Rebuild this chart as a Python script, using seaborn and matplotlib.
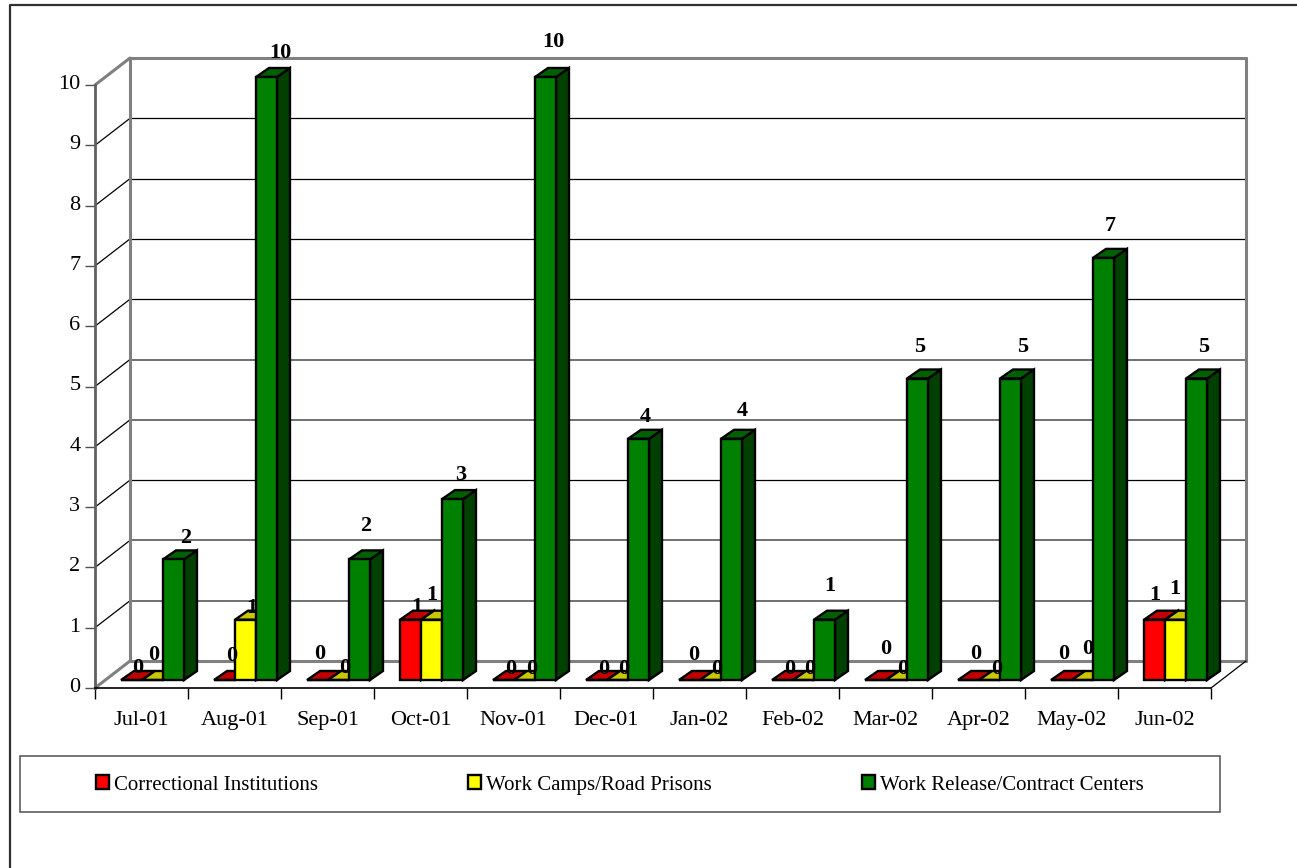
import matplotlib
matplotlib.use("Agg")
import matplotlib.pyplot as plt
import pandas as pd
import seaborn as sns
from matplotlib.lines import Line2D
from matplotlib.patches import Patch, Polygon, Rectangle
from matplotlib.transforms import Affine2D, IdentityTransform

months = ["Jul-01", "Aug-01", "Sep-01", "Oct-01", "Nov-01", "Dec-01",
          "Jan-02", "Feb-02", "Mar-02", "Apr-02", "May-02", "Jun-02"]
correctional = [0, 0, 0, 1, 0, 0, 0, 0, 0, 0, 0, 1]
work_camps = [0, 1, 0, 1, 0, 0, 0, 0, 0, 0, 0, 1]
work_release = [2, 10, 2, 3, 10, 4, 4, 1, 5, 5, 7, 5]
series_names = ["Correctional Institutions", "Work Camps/Road Prisons",
                "Work Release/Contract Centers"]

front_colors = ["#FF0000", "#FFFF00", "#008000"]
top_colors = ["#C00000", "#C8C800", "#006000"]
side_colors = ["#800000", "#808000", "#004000"]

# label nudges in pixels relative to each bar's top centre (the source chart scatters them)
nudge_x = [[6, 7, 2, 6, 7, 7, 4, 7, 10, 7, 2, 0],
           [1, 6, 6, 0, 7, 6, 6, 6, 6, 7, 5, -1],
           [12, 14, 6, 8, 8, 7, 11, 5, 2, 12, 7, 7]]
nudge_y = [[12, 24, 26, 13, 11, 11, 25, 11, 31, 26, 26, 25],
           [25, 12, 12, 25, 11, 11, 11, 11, 11, 11, 31, 31],
           [21, 24, 33, 24, 35, 22, 28, 34, 31, 31, 32, 31]]

W, H = 1297, 868
FONT = "Liberation Serif"
sns.set_theme(style="white")
plt.rcParams["font.family"] = [FONT, "DejaVu Serif"]
plt.rcParams["text.color"] = "black"

fig = plt.figure(figsize=(W / 100, H / 100), dpi=100, facecolor="white")
left, right, top, bottom = 95, 1211, 85, 688
ax = fig.add_axes([left / W, 1 - bottom / H, (right - left) / W, (bottom - top) / H])
ax.patch.set_alpha(0)

df = pd.DataFrame({
    "month": months * 3,
    "series": [s for s in series_names for _ in months],
    "count": correctional + work_camps + work_release,
})
sns.barplot(data=df, x="month", y="count", hue="series", order=months,
            hue_order=series_names, palette=front_colors, saturation=1,
            width=0.677, gap=0, edgecolor="black", linewidth=1.7,
            legend=False, ax=ax)
ax.set_xlim(-0.5, 11.5)
ax.set_ylim(0, 10)
ax.set_autoscale_on(False)
ax.set_xlabel("")
ax.set_ylabel("")

WALL = (35, 27)
BAR_SHIFT = (11, 8)
DEPTH = (13, 9)
GREY = "#808080"


def disp(x, y, dx=0, dy=0):
    px, py = ax.transData.transform((x, y))
    return px + dx, py + dy


def seg(p, q, **kw):
    line = Line2D([p[0], q[0]], [p[1], q[1]], transform=IdentityTransform(),
                  clip_on=False, **kw)
    ax.add_artist(line)


# back wall and side walls
for v in range(0, 11):
    if v in (0, 10):
        col, lw = GREY, 2.2
    elif v in (1, 2, 4, 5):
        col, lw = "#707070", 1.4
    else:
        col, lw = "black", 0.9
    seg(disp(-0.5, v, *WALL), disp(11.5, v, *WALL), color=col, lw=lw, zorder=1)
    seg(disp(-0.5, v), disp(-0.5, v, *WALL), color=GREY if v in (0, 10) else "black",
        lw=2.2 if v in (0, 10) else 0.9, zorder=1)
seg(disp(-0.5, 0, *WALL), disp(-0.5, 10, *WALL), color=GREY, lw=2.2, zorder=1)
seg(disp(11.5, 0, *WALL), disp(11.5, 10, *WALL), color=GREY, lw=2.2, zorder=1)
seg(disp(11.5, 0), disp(11.5, 0, *WALL), color="black", lw=0.9, zorder=1)

# 3D bars: the fronts are seaborn's, tops and sides follow from each bar's geometry
bar_tf = ax.transData + Affine2D().translate(*BAR_SHIFT)
for h, container in enumerate(ax.containers):
    for i, bar in enumerate(container.patches):
        bar.set_transform(bar_tf)
        bar.set_clip_on(False)
        bar.set_zorder(4 + 2 * h)
        x0, x1 = bar.get_x(), bar.get_x() + bar.get_width()
        val = bar.get_height()
        a = disp(x0, val, *BAR_SHIFT)
        b = disp(x1, val, *BAR_SHIFT)
        c = disp(x1, 0, *BAR_SHIFT)
        top_face = [a, b, (b[0] + DEPTH[0], b[1] + DEPTH[1]), (a[0] + DEPTH[0], a[1] + DEPTH[1])]
        side_face = [b, c, (c[0] + DEPTH[0], c[1] + DEPTH[1]), (b[0] + DEPTH[0], b[1] + DEPTH[1])]
        for pts, col in ((side_face, side_colors[h]), (top_face, top_colors[h])):
            ax.add_patch(Polygon(pts, closed=True, facecolor=col, edgecolor="black",
                                 linewidth=1.7, joinstyle="miter",
                                 transform=IdentityTransform(), clip_on=False,
                                 zorder=3 + 2 * h))
        cx, ty = disp((x0 + x1) / 2, val, *BAR_SHIFT)
        ax.text(cx + nudge_x[h][i], ty + nudge_y[h][i], f"{val:.0f}",
                transform=IdentityTransform(), ha="center", va="center",
                fontsize=16, fontweight="bold", color="black", zorder=20, clip_on=False)

# axes
for s in ("top", "right"):
    ax.spines[s].set_visible(False)
ax.spines["left"].set_color("#606060")
ax.spines["left"].set_linewidth(2)
ax.spines["bottom"].set_color("black")
ax.spines["bottom"].set_linewidth(1.2)
ax.set_yticks(range(0, 11))
ax.tick_params(axis="y", left=True, length=7, width=1, color="#505050", pad=3.5,
               labelsize=16, labelcolor="black")
ax.set_xticks([i - 0.5 for i in range(13)], minor=True)
ax.tick_params(axis="x", which="major", bottom=False, pad=10.7, labelsize=16, labelcolor="black")
ax.tick_params(axis="x", which="minor", bottom=True, length=8, width=1, color="black")
for lab in ax.get_yticklabels():
    lab.set_transform(lab.get_transform() + Affine2D().translate(0, 3))

# outer frame (top and left only) and legend box
fig.add_artist(Line2D([10 / W, 10 / W, 1], [0, 1 - 5 / H, 1 - 5 / H],
                      transform=fig.transFigure, color="#303030", lw=1.6))
fig.add_artist(Rectangle((20 / W, 1 - 812 / H), 1200 / W, 56 / H, transform=fig.transFigure,
                         facecolor="white", edgecolor="#505050", lw=1.1, zorder=-1))

handles = [Patch(facecolor=c, edgecolor="black", linewidth=1.7) for c in front_colors]
LEG_FS = 15
fs_px = LEG_FS * 100 / 72
ax.legend(handles, series_names, ncol=3, frameon=False, fontsize=LEG_FS,
          loc="center left", bbox_to_anchor=(96 / W, 1 - 785 / H),
          bbox_transform=fig.transFigure, borderpad=0, borderaxespad=0,
          handlelength=13 / fs_px, handleheight=13 / fs_px,
          handletextpad=5 / fs_px, columnspacing=150 / fs_px)

fig.savefig("out.png", dpi=100)
